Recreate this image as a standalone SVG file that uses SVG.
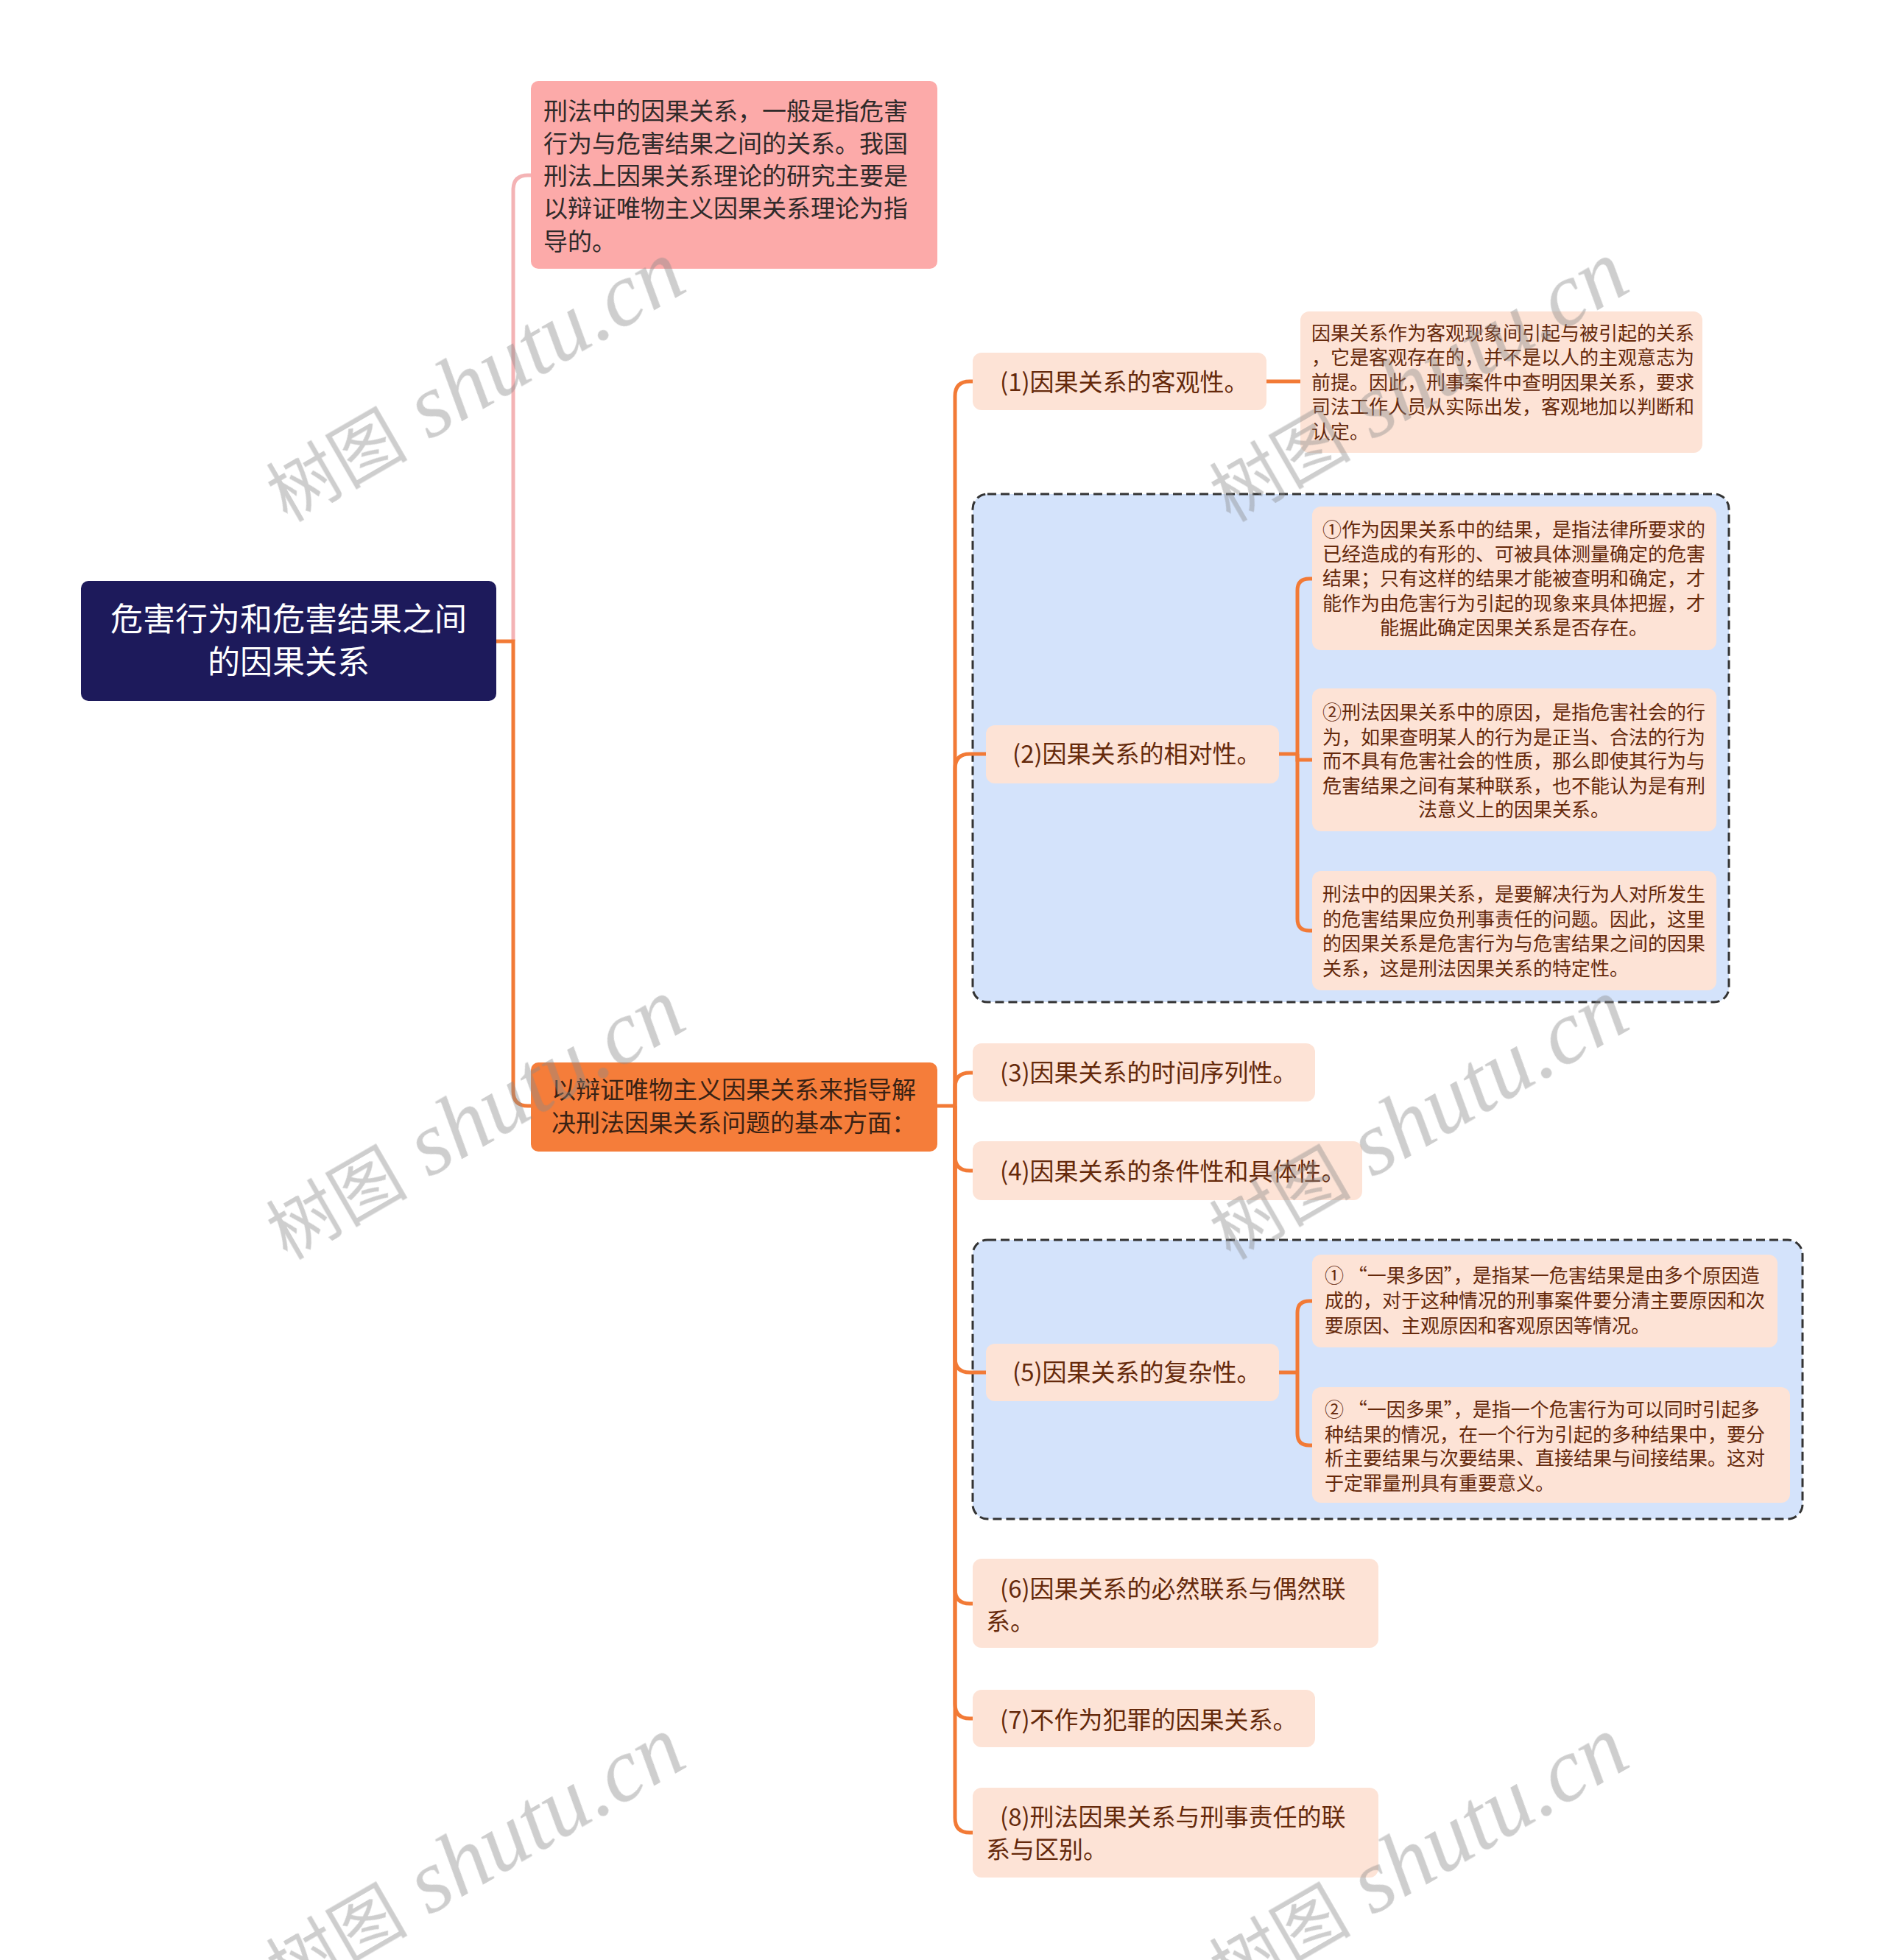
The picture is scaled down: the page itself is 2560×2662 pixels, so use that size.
<svg xmlns="http://www.w3.org/2000/svg" width="2560" height="2662" viewBox="0 0 2560 2662">
<style>
text{font-family:"Noto Sans CJK SC","Noto Sans",sans-serif;}
.root-box{fill:#1d1a5b;}
.root-t{fill:#ffffff;font-size:44px;text-anchor:middle;}
.pink-box{fill:#fcaaa9;}
.pink-t{fill:#2f2a2a;font-size:33px;}
.org-box{fill:#f57d3a;}
.org-t{fill:#3a2214;font-size:33px;}
.peach{fill:#fde3d6;}
.main-t{fill:#65290b;font-size:33px;}
.det-t{fill:#65290b;font-size:26px;}
.mid{text-anchor:middle;}
.grp{fill:#d4e3fb;stroke:#333333;stroke-width:3;stroke-dasharray:12 6;}
.ln{fill:none;stroke:#f27a36;stroke-width:5;stroke-linecap:butt;}
.ln-pink{fill:none;stroke:#f4b3b5;stroke-width:5;}
.wm{fill:#8a8a8a;opacity:0.42;}
.wm-cjk{font-family:"Noto Sans CJK SC",serif;font-size:96px;}
.wm-lat{font-family:"Liberation Serif",serif;font-style:italic;font-size:122px;}
</style>

<g id="group-2-frame"><rect class="grp" x="1321" y="671" width="1027" height="690" rx="20"/></g>
<g id="group-5-frame"><rect class="grp" x="1321" y="1684" width="1127" height="379" rx="20"/></g>

<g id="connectors">
<path class="ln-pink" d="M697,871 V258 Q697,238 717,238 H721"/>
<path class="ln" d="M674,871 H697 V1482 Q697,1502 717,1502 H721"/>
<path class="ln" d="M1273,1502 H1297"/>
<path class="ln" d="M1297,1502 V538 Q1297,518 1317,518 H1321"/>
<path class="ln" d="M1297,1502 V1044 Q1297,1024 1317,1024 H1339"/>
<path class="ln" d="M1297,1502 V1477 Q1297,1457 1317,1457 H1321"/>
<path class="ln" d="M1297,1502 V1570 Q1297,1590 1317,1590 H1321"/>
<path class="ln" d="M1297,1502 V1844 Q1297,1864 1317,1864 H1339"/>
<path class="ln" d="M1297,1502 V2158 Q1297,2178 1317,2178 H1321"/>
<path class="ln" d="M1297,1502 V2314 Q1297,2334 1317,2334 H1321"/>
<path class="ln" d="M1297,1502 V2469 Q1297,2489 1317,2489 H1321"/>
<path class="ln" d="M1720,518 H1766"/>
<path class="ln" d="M1737,1024 H1762"/>
<path class="ln" d="M1762,1024 V802 Q1762,786 1778,786 H1782"/>
<path class="ln" d="M1762,1024 V1032 H1782"/>
<path class="ln" d="M1762,1024 V1248 Q1762,1264 1778,1264 H1782"/>
<path class="ln" d="M1737,1864 H1762"/>
<path class="ln" d="M1762,1864 V1783 Q1762,1767 1778,1767 H1782"/>
<path class="ln" d="M1762,1864 V1947 Q1762,1963 1778,1963 H1782"/>
</g>

<g id="root">
<rect class="root-box" x="110" y="789" width="564" height="163" rx="10"/>
<text class="root-t" x="392" y="857">危害行为和危害结果之间</text>
<text class="root-t" x="392" y="915">的因果关系</text>
</g>

<g id="node-definition">
<rect class="pink-box" x="721" y="110" width="552" height="255" rx="10"/>
<text class="pink-t" x="738" y="163">刑法中的因果关系，一般是指危害</text>
<text class="pink-t" x="738" y="207">行为与危害结果之间的关系。我国</text>
<text class="pink-t" x="738" y="251">刑法上因果关系理论的研究主要是</text>
<text class="pink-t" x="738" y="295">以辩证唯物主义因果关系理论为指</text>
<text class="pink-t" x="738" y="340">导的。</text>
</g>

<g id="node-aspects">
<rect class="org-box" x="721" y="1443" width="552" height="121" rx="10"/>
<text class="org-t" x="749" y="1492">以辩证唯物主义因果关系来指导解</text>
<text class="org-t" x="749" y="1537">决刑法因果关系问题的基本方面：</text>
</g>

<g id="node-1">
<rect class="peach" x="1321" y="479" width="399" height="78" rx="12"/>
<text class="main-t" x="1358" y="531">(1)因果关系的客观性。</text>
</g>
<g id="node-1-detail">
<rect class="peach" x="1766" y="423" width="546" height="192" rx="12"/>
<text class="det-t" x="1781" y="462">因果关系作为客观现象间引起与被引起的关系</text>
<text class="det-t" x="1781" y="495">，它是客观存在的，并不是以人的主观意志为</text>
<text class="det-t" x="1781" y="529">前提。因此，刑事案件中查明因果关系，要求</text>
<text class="det-t" x="1781" y="562">司法工作人员从实际出发，客观地加以判断和</text>
<text class="det-t" x="1781" y="596">认定。</text>
</g>

<g id="node-2">
<rect class="peach" x="1339" y="985" width="398" height="79" rx="12"/>
<text class="main-t" x="1375" y="1036">(2)因果关系的相对性。</text>
</g>
<g id="node-2a">
<rect class="peach" x="1782" y="688" width="549" height="195" rx="12"/>
<text class="det-t mid" x="2056" y="729">①作为因果关系中的结果，是指法律所要求的</text>
<text class="det-t mid" x="2056" y="762">已经造成的有形的、可被具体测量确定的危害</text>
<text class="det-t mid" x="2056" y="795">结果；只有这样的结果才能被查明和确定，才</text>
<text class="det-t mid" x="2056" y="829">能作为由危害行为引起的现象来具体把握，才</text>
<text class="det-t mid" x="2056" y="862">能据此确定因果关系是否存在。</text>
</g>
<g id="node-2b">
<rect class="peach" x="1782" y="935" width="549" height="194" rx="12"/>
<text class="det-t mid" x="2056" y="977">②刑法因果关系中的原因，是指危害社会的行</text>
<text class="det-t mid" x="2056" y="1011">为，如果查明某人的行为是正当、合法的行为</text>
<text class="det-t mid" x="2056" y="1043">而不具有危害社会的性质，那么即使其行为与</text>
<text class="det-t mid" x="2056" y="1077">危害结果之间有某种联系，也不能认为是有刑</text>
<text class="det-t mid" x="2056" y="1109">法意义上的因果关系。</text>
</g>
<g id="node-2c">
<rect class="peach" x="1782" y="1183" width="549" height="162" rx="12"/>
<text class="det-t" x="1796" y="1224">刑法中的因果关系，是要解决行为人对所发生</text>
<text class="det-t" x="1796" y="1258">的危害结果应负刑事责任的问题。因此，这里</text>
<text class="det-t" x="1796" y="1291">的因果关系是危害行为与危害结果之间的因果</text>
<text class="det-t" x="1796" y="1325">关系，这是刑法因果关系的特定性。</text>
</g>

<g id="node-3">
<rect class="peach" x="1321" y="1417" width="465" height="79" rx="12"/>
<text class="main-t" x="1358" y="1469">(3)因果关系的时间序列性。</text>
</g>
<g id="node-4">
<rect class="peach" x="1321" y="1550" width="529" height="80" rx="12"/>
<text class="main-t" x="1358" y="1603">(4)因果关系的条件性和具体性。</text>
</g>

<g id="node-5">
<rect class="peach" x="1339" y="1825" width="398" height="78" rx="12"/>
<text class="main-t" x="1375" y="1876">(5)因果关系的复杂性。</text>
</g>
<g id="node-5a">
<rect class="peach" x="1782" y="1704" width="632" height="126" rx="12"/>
<text class="det-t" x="1799" y="1742">① “一果多因”，是指某一危害结果是由多个原因造</text>
<text class="det-t" x="1799" y="1776">成的，对于这种情况的刑事案件要分清主要原因和次</text>
<text class="det-t" x="1799" y="1810">要原因、主观原因和客观原因等情况。</text>
</g>
<g id="node-5b">
<rect class="peach" x="1782" y="1884" width="649" height="157" rx="12"/>
<text class="det-t" x="1799" y="1924">② “一因多果”，是指一个危害行为可以同时引起多</text>
<text class="det-t" x="1799" y="1958">种结果的情况，在一个行为引起的多种结果中，要分</text>
<text class="det-t" x="1799" y="1990">析主要结果与次要结果、直接结果与间接结果。这对</text>
<text class="det-t" x="1799" y="2024">于定罪量刑具有重要意义。</text>
</g>

<g id="node-6">
<rect class="peach" x="1321" y="2117" width="551" height="121" rx="12"/>
<text class="main-t" x="1358" y="2170">(6)因果关系的必然联系与偶然联</text>
<text class="main-t" x="1339" y="2214">系。</text>
</g>
<g id="node-7">
<rect class="peach" x="1321" y="2295" width="465" height="78" rx="12"/>
<text class="main-t" x="1358" y="2348">(7)不作为犯罪的因果关系。</text>
</g>
<g id="node-8">
<rect class="peach" x="1321" y="2428" width="551" height="122" rx="12"/>
<text class="main-t" x="1358" y="2480">(8)刑法因果关系与刑事责任的联</text>
<text class="main-t" x="1339" y="2524">系与区别。</text>
</g>

<g id="watermarks" class="wm">
<text text-anchor="middle" transform="rotate(-30 646 521)" x="646" y="556"><tspan class="wm-cjk">树图</tspan><tspan class="wm-lat"> shutu.cn</tspan></text>
<text text-anchor="middle" transform="rotate(-30 646 1523)" x="646" y="1558"><tspan class="wm-cjk">树图</tspan><tspan class="wm-lat"> shutu.cn</tspan></text>
<text text-anchor="middle" transform="rotate(-30 646 2525)" x="646" y="2560"><tspan class="wm-cjk">树图</tspan><tspan class="wm-lat"> shutu.cn</tspan></text>
<text text-anchor="middle" transform="rotate(-30 1927 521)" x="1927" y="556"><tspan class="wm-cjk">树图</tspan><tspan class="wm-lat"> shutu.cn</tspan></text>
<text text-anchor="middle" transform="rotate(-30 1927 1523)" x="1927" y="1558"><tspan class="wm-cjk">树图</tspan><tspan class="wm-lat"> shutu.cn</tspan></text>
<text text-anchor="middle" transform="rotate(-30 1927 2525)" x="1927" y="2560"><tspan class="wm-cjk">树图</tspan><tspan class="wm-lat"> shutu.cn</tspan></text>
</g>
</svg>
